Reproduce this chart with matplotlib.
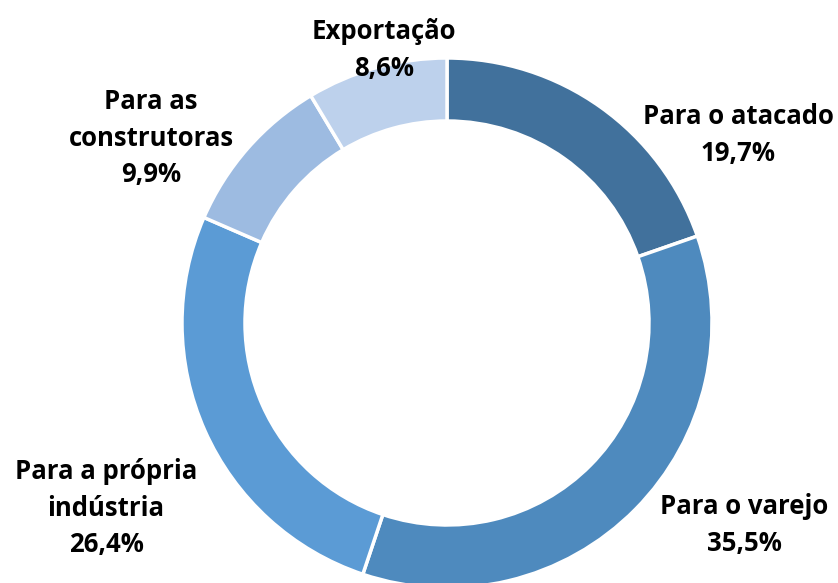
import matplotlib.pyplot as plt

labels = ["Para o atacado", "Para o varejo", "Para a própria\nindústria",
          "Para as\nconstrutoras", "Exportação"]
values = [19.7, 35.5, 26.4, 9.9, 8.6]
colors = ["#41719c", "#4e8abe", "#5b9bd5", "#9dbbe1", "#bdd1ec"]

# label centres in pixel coords (y measured from top)
label_pos = [(738, 135), (744, 525), (106, 508), (151, 138), (384, 50)]

W, H = 838, 583
fig = plt.figure(figsize=(W / 100, H / 100), dpi=100)
ax = fig.add_axes([0, 0, 1, 1])

ax.pie(values, colors=colors, startangle=90, counterclock=False,
       center=(447, H - 323), radius=265, frame=True,
       wedgeprops=dict(width=63, edgecolor="white", linewidth=2.5))
ax.set_xlim(0, W)
ax.set_ylim(0, H)
ax.set_aspect("equal")
ax.axis("off")

for lab, val, (x, y) in zip(labels, values, label_pos):
    txt = lab + "\n" + f"{val:.1f}".replace(".", ",") + "%"
    ax.text(x, H - y, txt, ha="center", va="center", fontsize=18.5,
            fontweight="bold", family="Open Sans", linespacing=1.45,
            color="black")

fig.savefig("out.png", dpi=100)
